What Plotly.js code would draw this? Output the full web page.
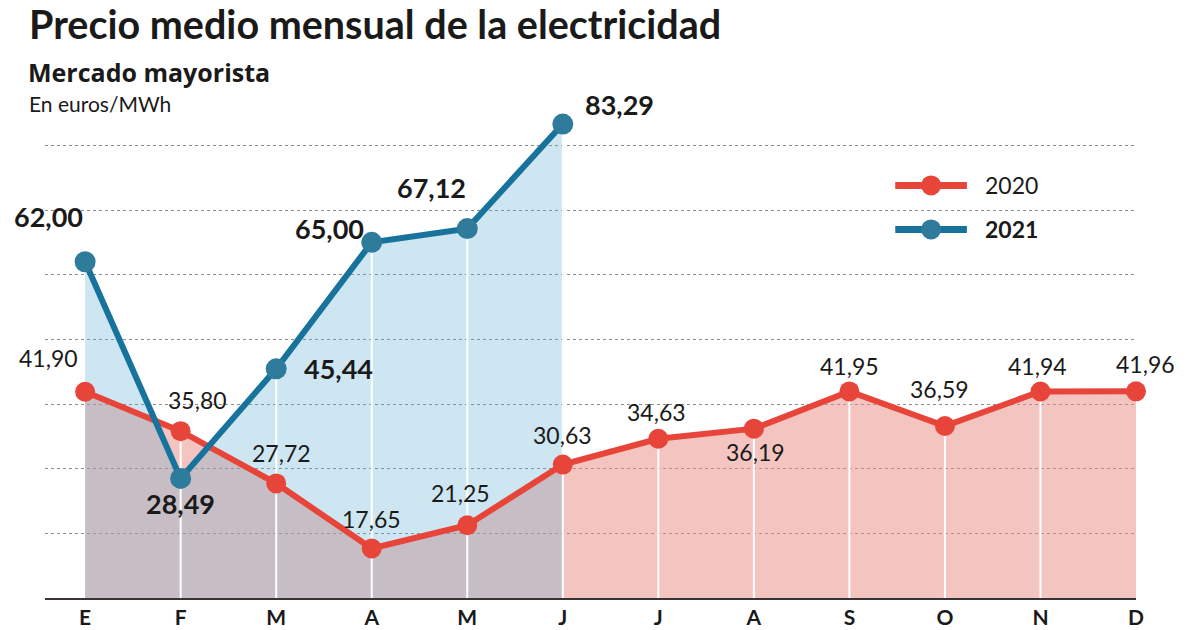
<!DOCTYPE html>
<html>
<head>
<meta charset="utf-8">
<script src="https://cdn.plot.ly/plotly-3.0.1.min.js"></script>
<style>
html,body{margin:0;padding:0;background:#fff;}
#chart{width:1200px;height:630px;}
</style>
</head>
<body>
<div id="chart"></div>
<script>
// ---- Data ----
const months = ['E','F','M','A','M','J','J','A','S','O','N','D'];
const precio2020 = [41.90, 35.80, 27.72, 17.65, 21.25, 30.63, 34.63, 36.19, 41.95, 36.59, 41.94, 41.96];
const precio2021 = [62.00, 28.49, 45.44, 65.00, 67.12, 83.29];
const gridValues = [20, 30, 40, 50, 60, 70, 80];
const seriesNames = ['2020', '2021'];

// ---- Styles / label offsets (px) ----
const RED = '#e8453a';
const BLUE_LINE = '#17729c';
const BLUE_MARK = '#2f7b9c';
const FONT = 'Lato, "Open Sans", sans-serif';
const SUBFONT = '"Open Sans", Lato, sans-serif';
const off2020 = [[-37,34],[17,31],[5,30],[0,30],[-7,32],[0,30],[-2,27],[2,-23],[0,25],[-5,37],[-3,25],[9,27]];
const off2021 = [[-37,45],[0,-25],[62,0],[-42,14],[-36,41],[57,20]];

const xIdx = months.map((_, i) => i);
const x21 = precio2021.map((_, i) => i);
const fmt = v => v.toFixed(2).replace('.', ',');

// white separator lines at each interior month
const sepX = [], sepY = [];
for (let i = 1; i < months.length - 1; i++) {
  const top = Math.max(precio2020[i], i < precio2021.length ? precio2021[i] : -Infinity);
  sepX.push(i, i, null);
  sepY.push(0, top, null);
}

const traces = [
  {x: xIdx, y: precio2020, type: 'scatter', mode: 'none', fill: 'tozeroy',
   fillcolor: 'rgba(233,137,129,0.5)', hoverinfo: 'skip', showlegend: false},
  {x: x21, y: precio2021, type: 'scatter', mode: 'none', fill: 'tozeroy',
   fillcolor: 'rgba(92,172,208,0.3)', hoverinfo: 'skip', showlegend: false},
  {x: sepX, y: sepY, type: 'scatter', mode: 'lines', line: {color: '#ffffff', width: 2},
   hoverinfo: 'skip', showlegend: false},
  {x: xIdx, y: precio2020, type: 'scatter', mode: 'lines+markers', name: seriesNames[0],
   line: {color: RED, width: 6}, marker: {color: RED, size: 20}, cliponaxis: false, showlegend: false},
  {x: x21, y: precio2021, type: 'scatter', mode: 'lines+markers', name: seriesNames[1],
   line: {color: BLUE_LINE, width: 6}, marker: {color: BLUE_MARK, size: 21}, cliponaxis: false, showlegend: false}
];

const annotations = [];
precio2020.forEach((v, i) => annotations.push({
  x: i, y: v, xref: 'x', yref: 'y', text: fmt(v), showarrow: false,
  xshift: off2020[i][0], yshift: off2020[i][1],
  font: {family: FONT, size: 23, color: '#1a1a1a'}
}));
precio2021.forEach((v, i) => annotations.push({
  x: i, y: v, xref: 'x', yref: 'y', text: '<b>' + fmt(v) + '</b>', showarrow: false,
  xshift: off2021[i][0], yshift: off2021[i][1],
  font: {family: FONT, size: 27, color: '#1a1a1a'}
}));
// subtitle and unit
annotations.push({xref: 'paper', yref: 'paper', x: -19/1091, y: 1 + 41/485, xanchor: 'left', yanchor: 'middle',
  text: '<b>Mercado mayorista</b>', showarrow: false, font: {family: SUBFONT, size: 25, color: '#1a1a1a'}});
annotations.push({xref: 'paper', yref: 'paper', x: -18/1091, y: 1 + 10/485, xanchor: 'left', yanchor: 'middle',
  text: 'En euros/MWh', showarrow: false, font: {family: FONT, size: 21, color: '#1a1a1a'}});

// custom legend
const legendRows = [{name: seriesNames[0], color: RED, mark: RED, bold: false, y: 73.8},
                    {name: seriesNames[1], color: BLUE_LINE, mark: BLUE_MARK, bold: true, y: 67.0}];
const shapes = [];
legendRows.forEach(r => {
  shapes.push({type: 'line', xref: 'x', yref: 'y', x0: 8.48, x1: 9.23, y0: r.y, y1: r.y,
    line: {color: r.color, width: 7}, layer: 'above'});
  shapes.push({type: 'circle', xref: 'x', yref: 'y', xsizemode: 'pixel', ysizemode: 'pixel',
    xanchor: 8.855, yanchor: r.y, x0: -10, x1: 10, y0: -10, y1: 10,
    fillcolor: r.mark, line: {width: 0}, layer: 'above'});
  annotations.push({xref: 'x', yref: 'y', x: 9.40, y: r.y, xanchor: 'left', yanchor: 'middle', showarrow: false,
    text: r.bold ? '<b>' + r.name + '</b>' : r.name, font: {family: FONT, size: 23, color: '#1a1a1a'}});
});

const layout = {
  width: 1200, height: 630,
  paper_bgcolor: '#ffffff', plot_bgcolor: '#ffffff',
  margin: {l: 45, r: 64, t: 112.5, b: 32.3},
  showlegend: false,
  title: {text: '<b>Precio medio mensual de la electricidad</b>', x: 29/1200, xref: 'container', xanchor: 'left',
    y: 1 - 25/630, yref: 'container', yanchor: 'middle', font: {family: FONT, size: 39.5, color: '#1a1a1a'}},
  xaxis: {range: [-0.42, 11], tickvals: xIdx, ticktext: months.map(m => '<b>' + m + '</b>'),
    showgrid: false, zeroline: false, showline: true, linecolor: '#3a3333', linewidth: 2,
    ticks: '', tickfont: {family: FONT, size: 21, color: '#1a1a1a'}, fixedrange: true},
  yaxis: {range: [10, 85], tickvals: gridValues, showticklabels: false, ticks: '',
    showgrid: true, gridcolor: '#8c8c8c', griddash: 'dot', gridwidth: 1, zeroline: false, showline: false, fixedrange: true},
  annotations: annotations,
  shapes: shapes
};

Plotly.newPlot('chart', traces, layout, {displayModeBar: false, staticPlot: true});
</script>
</body>
</html>
